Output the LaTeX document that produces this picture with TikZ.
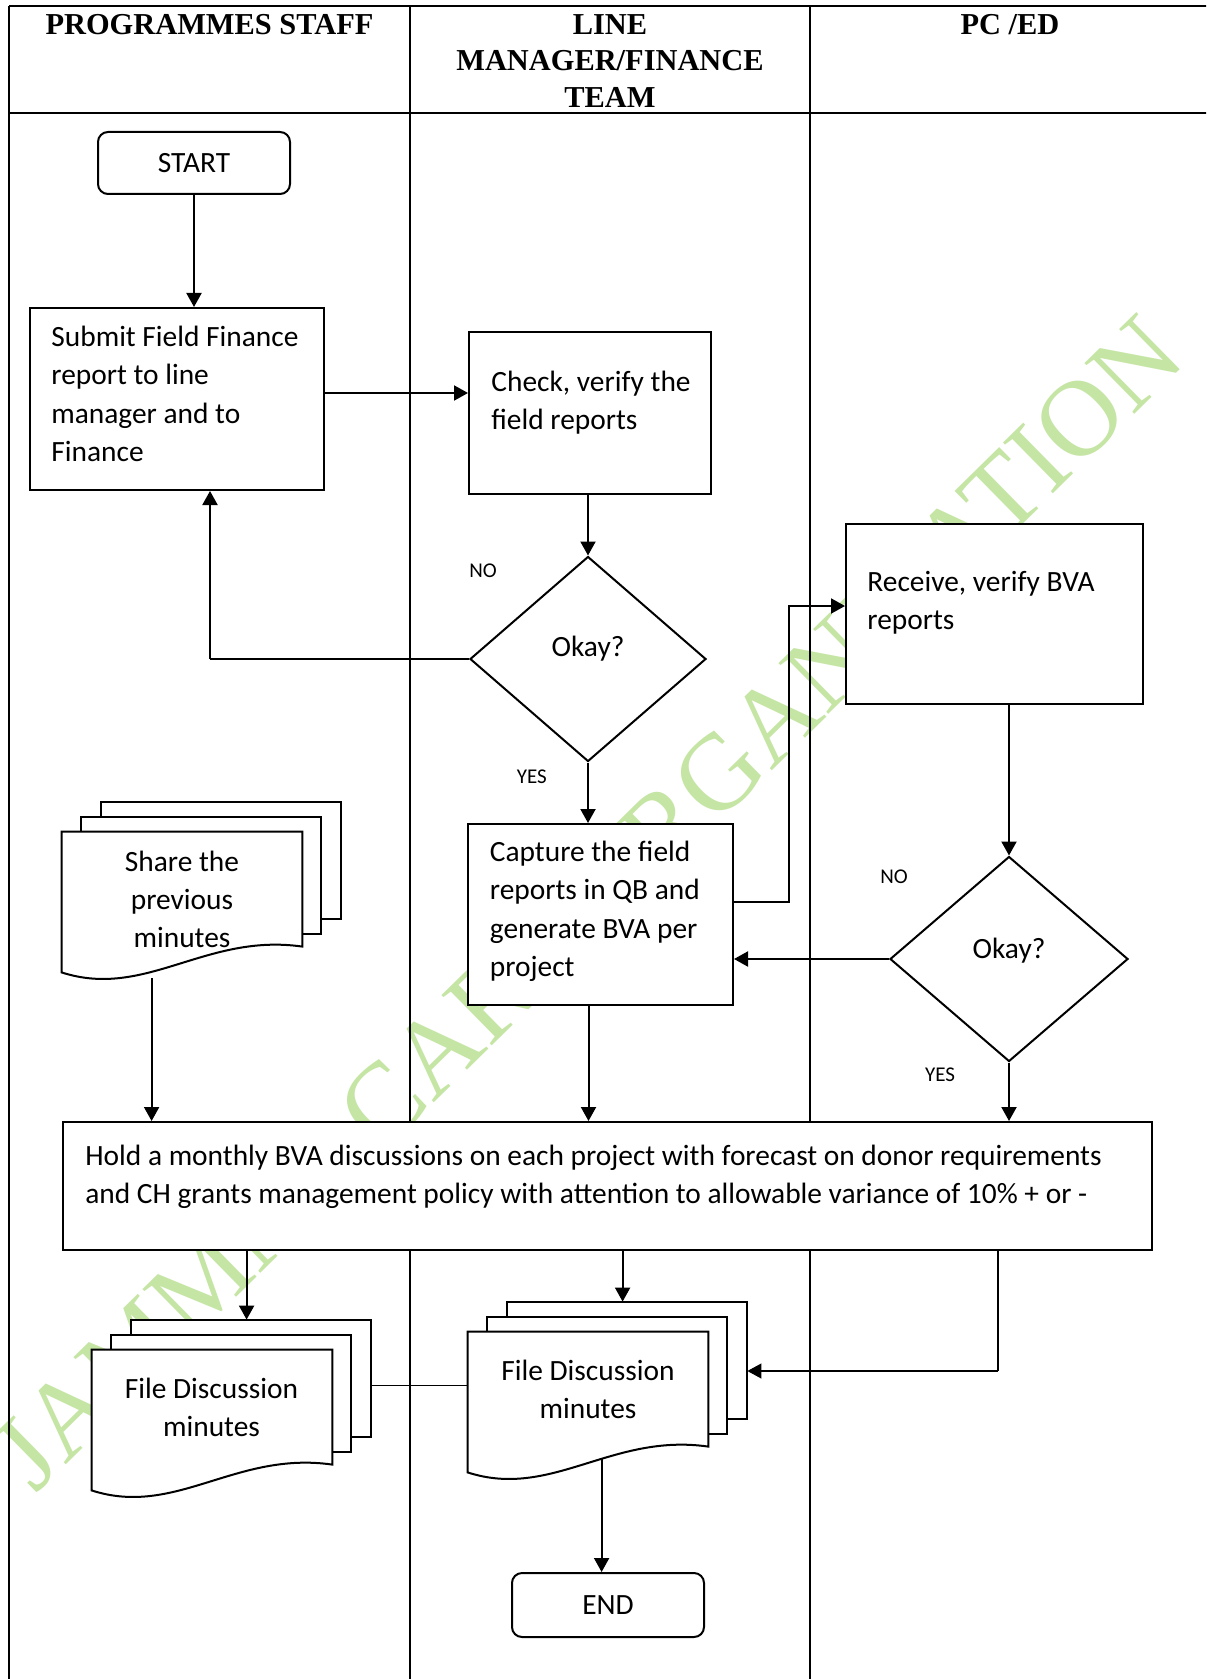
\documentclass[tikz,border=0pt]{standalone}
\usepackage{fontspec}
\setmainfont{Carlito}
\newfontfamily\headfont{Liberation Serif}
\newfontfamily\wmfont{Liberation Serif}
\usetikzlibrary{arrows.meta,shapes.geometric,calc}
\definecolor{wmgreen}{RGB}{197,229,164}
\newcommand{\bodyfont}{\fontsize{14.7pt}{19.2pt}\selectfont}
\newcommand{\smallfont}{\fontsize{10.5pt}{12pt}\selectfont}
\newcommand{\hdfont}{\headfont\bfseries\fontsize{15.2pt}{18.25pt}\selectfont}
\newcommand{\mlines}[2]{\begin{tabular}[t]{@{}#1@{}}#2\end{tabular}}
\newcommand{\multidoc}[1]{%
  \draw[docline] ($(#1.north west)+(39,-30)$) rectangle ($(#1.north west)+(279,87)$);
  \draw[docline] ($(#1.north west)+(19.5,-15)$) rectangle ($(#1.north west)+(259.5,102)$);
  \draw[docline] (#1.north west) -- (#1.north east) -- ($(#1.north east)+(0,115)$)
     .. controls ($(#1.north west)+(144,101)$) and ($(#1.north west)+(84,168)$) .. (#1.south west) -- cycle;
}
\begin{document}
\begin{tikzpicture}[x=0.5pt,y=-0.5pt,
  box/.style={draw, line width=1pt, fill=white, inner sep=0pt, rectangle},
  term/.style={box, rounded corners=5pt, font=\bodyfont},
  dec/.style={draw, diamond, line width=1pt, fill=white, inner sep=0pt},
  docline/.style={draw, line width=1pt, fill=white},
  docnode/.style={draw=none, inner sep=0pt, minimum width=120pt, minimum height=70pt},
  txt/.style={inner sep=0pt, font=\bodyfont},
  lbl/.style={inner sep=0pt, font=\smallfont},
  hd/.style={inner sep=0pt, font=\hdfont, anchor=base},
  tip/.style={-{Triangle[length=7pt,width=7.5pt]}},
  arr/.style={line width=1pt, tip},
  conn/.style={line width=1pt},
  thinconn/.style={line width=0.55pt},
  grid/.style={line width=0.75pt},
  hgrid/.style={line width=1pt}]
\useasboundingbox (0,0) rectangle (1206,1679);
\clip (0,0) rectangle (1206,1679);
\fill[white] (0,0) rectangle (1206,1679);

% watermark
\node[font=\wmfont\fontsize{54.3pt}{60pt}\selectfont, text=wmgreen, rotate=44.5, inner sep=0pt] (wm) at (587,903) {JAMMNE CARE ORGANIZATION};

% table
\draw[hgrid] (9,6.5) -- (1220,6.5);
\draw[hgrid] (9,113) -- (1220,113);
\draw[grid] (9,6.5) -- (9,1690);
\draw[grid] (410,6.5) -- (410,1690);
\draw[grid] (810,6.5) -- (810,1690);
\draw[grid] (1210,6.5) -- (1210,1690);

\node[hd] (h1) at (209.5,34.5) {\mlines{c}{PROGRAMMES STAFF}};
\node[hd] (h2) at (610,34.5) {\mlines{c}{LINE\\MANAGER/FINANCE\\TEAM}};
\node[hd] (h3) at (1010,34.5) {\mlines{c}{PC /ED}};

% nodes
\node[term, minimum width=96pt, minimum height=31pt] (start) at (194,163) {START};
\node[box, minimum width=147pt, minimum height=91pt] (submit) at (177,399) {};
\node[box, minimum width=121pt, minimum height=81pt] (check) at (590,413) {};
\node[dec, minimum width=118pt, minimum height=102.5pt] (d1) at (588,659) {};
\node[box, minimum width=148.5pt, minimum height=90pt] (receive) at (994.5,614) {};
\node[box, minimum width=132.5pt, minimum height=90.25pt] (capture) at (600.5,914.25) {};
\node[dec, minimum width=119pt, minimum height=102.5pt] (d2) at (1009,959) {};
\node[box, minimum width=544.5pt, minimum height=64pt] (big) at (607.5,1186) {};
\node[term, minimum width=96pt, minimum height=32pt] (end) at (608,1605) {END};

\node[docnode] (share) at (182,902) {};
\node[docnode] (fileL) at (212,1420) {};
\node[docnode] (fileM) at (588,1402) {};
\multidoc{share}
\multidoc{fileL}
\multidoc{fileM}

% texts
\node[txt, anchor=base west] (submit-t) at (51,346.5) {\mlines{l}{Submit Field Finance\\report to line\\manager and to\\Finance}};
\node[txt, anchor=base west] (check-t) at (491,391.5) {\mlines{l}{Check, verify the\\field reports}};
\node[txt, anchor=base west] (receive-t) at (867,591.5) {\mlines{l}{Receive, verify BVA\\reports}};
\node[txt, anchor=base west] (capture-t) at (489.5,861.5) {\mlines{l}{Capture the field\\reports in QB and\\generate BVA per\\project}};
\node[txt, anchor=base west] (big-t) at (85,1165) {\mlines{l}{Hold a monthly BVA discussions on each project with forecast on donor requirements\\and CH grants management policy with attention to allowable variance of 10\% + or -}};
\node[txt, anchor=base] (share-t) at (182,871) {\mlines{c}{Share the\\previous\\minutes}};
\node[txt, anchor=base] (fileL-t) at (211.5,1398) {\mlines{c}{File Discussion\\minutes}};
\node[txt, anchor=base] (fileM-t) at (588,1380) {\mlines{c}{File Discussion\\minutes}};
\node[txt, anchor=base] (d1-t) at (588,656.7) {Okay?};
\node[txt, anchor=base] (d2-t) at (1009,958) {Okay?};

\node[lbl, anchor=base west] (no1) at (469,577) {NO};
\node[lbl, anchor=base west] (yes1) at (516.5,783) {YES};
\node[lbl, anchor=base] (no2) at (894,883) {NO};
\node[lbl, anchor=base] (yes2) at (940,1081) {YES};

% connectors
\draw[arr] (start) -- (start |- submit.north);
\draw[arr] ($(submit.east)+(0,-6)$) -- ($(check.west)+(0,-20)$);
\draw[arr] (check.south -| d1.north) -- (d1.north);
\coordinate (nobend) at (210,659);
\draw[thinconn] (d1.west) -- (nobend);
\draw[arr] (nobend) -- (nobend |- submit.south);
\draw[arr] (d1.south) -- (d1.south |- capture.north);
\coordinate (capout) at ($(capture.east)+(0,-12)$);
\coordinate (recin) at ($(receive.west)+(0,-8)$);
\draw[arr] (capout) -- ++(55,0) |- (recin);
\draw[arr] (receive.south -| d2.north) -- (d2.north);
\draw[arr] (d2.west) -- (d2.west -| capture.east);
\draw[arr] (d2.south) -- (d2.south |- big.north);
\coordinate (capdown) at ($(capture.south)+(-12,0)$);
\draw[arr] (capdown) -- (capdown |- big.north);
\coordinate (sharedown) at ($(share.south west)+(90,6)$);
\draw[arr] (sharedown) -- (sharedown |- big.north);
\coordinate (fL3) at ($(fileL.north west)+(155,-30)$);
\draw[arr] (fL3 |- big.south) -- (fL3);
\coordinate (fM3) at ($(fileM.north west)+(155,-30)$);
\draw[arr] (fM3 |- big.south) -- (fM3);
\coordinate (fLe) at ($(fileL.north east)+(39,36)$);
\draw[thinconn] (fLe) -- (fLe -| fileM.west);
\coordinate (bturn) at (998,1371);
\coordinate (fMe) at ($(fileM.north east)+(39,0)$);
\draw[thinconn] (bturn |- big.south) -- (bturn);
\draw[thinconn, tip] (bturn) -- (bturn -| fMe);
\coordinate (fMout) at ($(fileM.north west)+(134,127)$);
\draw[arr] (fMout) -- (fMout |- end.north);
\end{tikzpicture}
\end{document}
